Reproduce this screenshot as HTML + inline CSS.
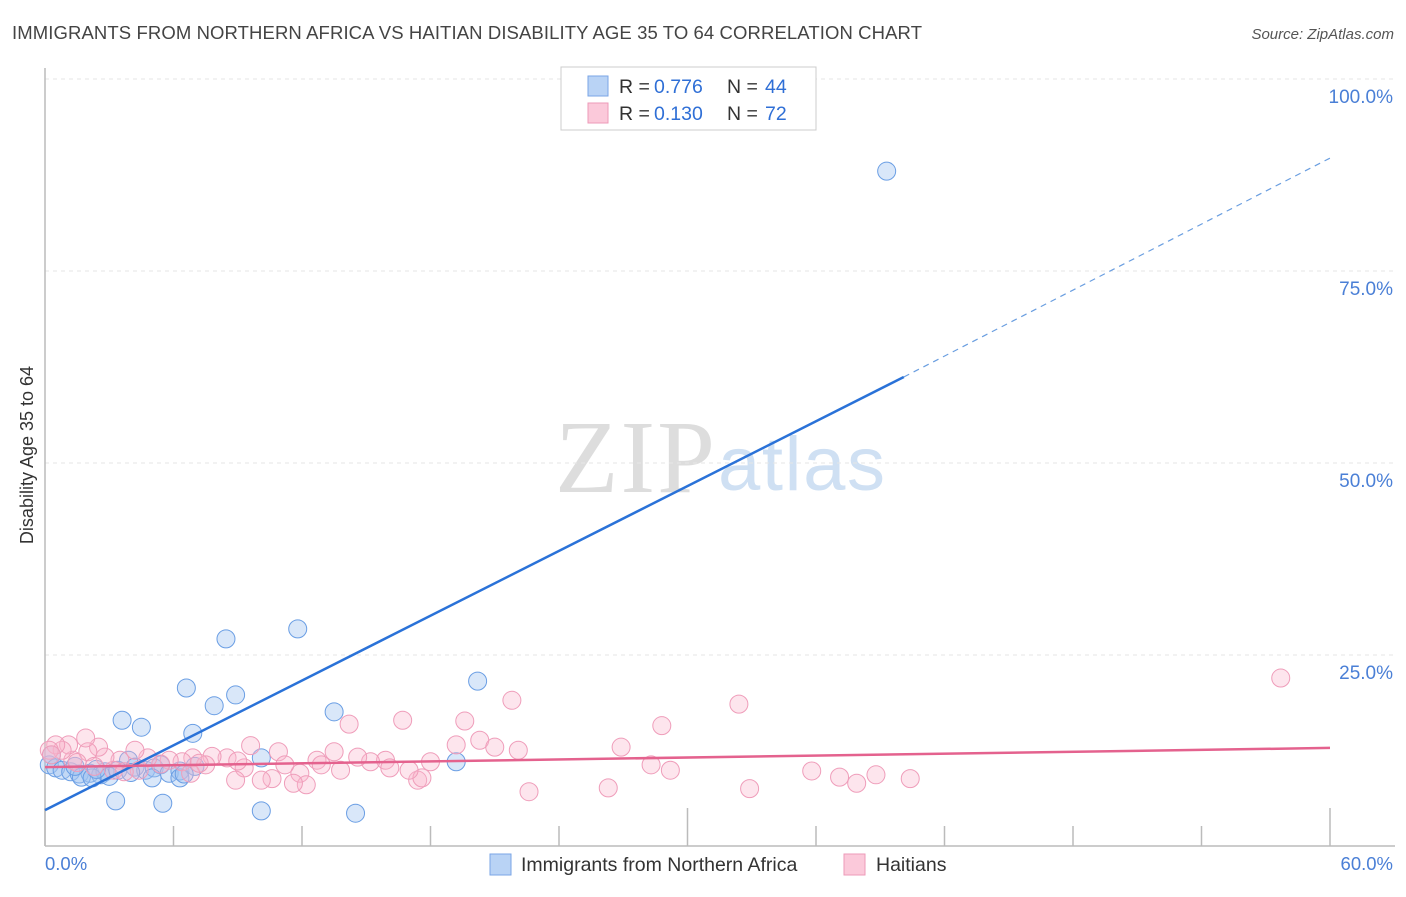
<!DOCTYPE html>
<html><head><meta charset="utf-8"><style>
body{margin:0;background:#fff;font-family:"Liberation Sans",sans-serif;}
</style></head><body>
<svg id="chart" width="1406" height="892" xmlns="http://www.w3.org/2000/svg">
<text x="12" y="39" font-size="18.5" fill="#444" textLength="910">IMMIGRANTS FROM NORTHERN AFRICA VS HAITIAN DISABILITY AGE 35 TO 64 CORRELATION CHART</text>
<text x="1394" y="39" font-size="15" fill="#555" font-style="italic" text-anchor="end">Source: ZipAtlas.com</text>
<text x="555" y="492" font-size="104" fill="#ddd" textLength="160" font-family="Liberation Serif,serif">ZIP</text>
<text x="718" y="490" font-size="76" fill="#cfe0f3" textLength="167">atlas</text>
<g id="grid"></g>
<line x1="45" y1="68" x2="45" y2="846" stroke="#bbb" stroke-width="1.5"/>
<line x1="45" y1="846" x2="1395" y2="846" stroke="#bbb" stroke-width="1.5"/>
<g id="xticks"></g>
<g id="pts"></g>
<g id="trends"></g>
<text x="45" y="870" font-size="18.5" fill="#4a7fd6">0.0%</text>
<text x="1393" y="870" font-size="18.5" fill="#4a7fd6" text-anchor="end">60.0%</text>
<text transform="translate(33,455) rotate(-90)" font-size="18" fill="#333" text-anchor="middle">Disability Age 35 to 64</text>
<g>
<rect x="561" y="67" width="255" height="63" fill="#fff" stroke="#ccc"/>
<rect x="588" y="76" width="20" height="20" fill="#b9d3f5" stroke="#7aa5e6"/>
<rect x="588" y="103" width="20" height="20" fill="#fbc9da" stroke="#ee9ab8"/>
<text y="93" font-size="19.5" fill="#333"><tspan x="619">R =</tspan><tspan x="654" fill="#2f6fd6">0.776</tspan><tspan x="727">N =</tspan><tspan x="765" fill="#2f6fd6">44</tspan></text>
<text y="120" font-size="19.5" fill="#333"><tspan x="619">R =</tspan><tspan x="654" fill="#2f6fd6">0.130</tspan><tspan x="727">N =</tspan><tspan x="765" fill="#2f6fd6">72</tspan></text>
</g>
<g>
<rect x="490" y="854" width="21" height="21" fill="#b9d3f5" stroke="#7aa5e6"/>
<text x="521" y="871" font-size="19.5" fill="#333">Immigrants from Northern Africa</text>
<rect x="844" y="854" width="21" height="21" fill="#fbc9da" stroke="#ee9ab8"/>
<text x="876" y="871" font-size="19.5" fill="#333">Haitians</text>
</g>
</svg>
<script>
const yTicks=[25,50,75,100];
const yTickLabels=["25.0%","50.0%","75.0%","100.0%"];
const blueX=[39.3,11.8,8.45,6.6,8.9,7.9,20.2,13.5,3.6,4.5,6.9,10.1,19.2,3.3,5.5,10.1,14.5,0.2,0.5,0.8,1.2,1.6,2.1,2.6,2.8,3.0,3.9,4.2,4.7,5.1,5.4,5.8,6.3,6.3,5.0,7.0,1.7,2.2,1.4,3.4,0.3,2.4,4.0,6.5];
const blueY=[88.0,28.4,27.1,20.7,19.8,18.4,21.6,17.6,16.5,15.6,14.8,11.6,11.1,6.0,5.7,4.7,4.4,10.7,10.3,10.0,9.8,9.5,9.6,9.4,9.8,9.2,11.3,10.4,10.0,10.3,10.7,9.6,9.9,9.0,9.0,10.5,9.1,9.0,10.5,10.0,12.0,10.1,9.7,9.5];
const pinkX=[57.7,32.4,21.8,28.8,14.2,16.7,19.6,20.3,21.0,22.1,19.2,26.9,28.3,29.2,35.8,37.1,37.9,38.8,40.4,22.6,26.3,32.9,17.4,17.6,17.0,18.0,15.9,16.1,15.2,14.6,13.5,12.7,12.9,13.8,11.9,12.2,11.6,10.9,11.2,10.6,10.1,9.6,9.3,8.9,8.5,7.8,7.5,6.9,6.4,5.8,5.4,4.8,4.2,3.5,3.2,2.8,2.5,2.0,1.9,1.3,1.1,0.8,0.5,0.2,4.4,3.7,6.8,0.3,1.5,2.3,7.2,9.0];
const pinkY=[22.0,18.6,19.1,15.8,16.0,16.5,16.4,13.9,13.0,12.6,13.3,13.0,10.7,10.0,9.9,9.1,8.3,9.4,8.9,7.2,7.7,7.6,8.7,9.0,10.0,11.1,11.3,10.3,11.1,11.7,12.4,11.3,10.7,10.0,9.6,8.1,8.3,12.4,10.7,8.9,8.7,13.2,10.3,8.7,11.6,11.8,10.7,11.6,11.1,11.3,10.8,11.6,12.6,11.3,10.0,11.7,13.0,12.4,14.2,11.3,13.3,12.6,13.3,12.6,10.0,9.8,9.6,12.0,11.0,10.5,10.9,11.2];
const blueTrendX=[0,40.1,60];
const blueTrendY=[4.8,61.2,89.7];
const pinkTrendX=[0,60];
const pinkTrendY=[10.4,12.9];
const xTicks=[0,6,12,18,24,30,36,42,48,54,60];
const NS="http://www.w3.org/2000/svg";
const sx=v=>45+v/60*1285;
const sy=v=>847-v/100*768;
function mk(tag,attrs,parent){const e=document.createElementNS(NS,tag);for(const k in attrs)e.setAttribute(k,attrs[k]);parent.appendChild(e);return e;}
const grid=document.getElementById('grid');
yTicks.forEach((t,i)=>{
  const l=mk('line',{x1:45,x2:1395,y1:sy(t),y2:sy(t),stroke:'#e6e6e6','stroke-dasharray':'4,4'},grid);
  
  
  const tx=mk('text',{x:1393,y:sy(t)+24,'font-size':19,fill:'#4a7fd6','text-anchor':'end'},grid);
  tx.textContent=yTickLabels[i];
  
  
});
const xt=document.getElementById('xticks');
xTicks.forEach((t,i)=>{
  const tall=(i===0||i===5||i===10);
  const l=mk('line',{x1:sx(t),x2:sx(t),y1:tall?808:826,y2:846,stroke:'#bbb','stroke-width':1.5},xt);
  
  
});
const pts=document.getElementById('pts');
blueX.forEach((x,i)=>{
  const c=mk('circle',{cx:sx(x),cy:sy(blueY[i]),r:9,fill:'rgba(160,196,240,0.4)',stroke:'#6a9ee4','stroke-width':1},pts);
  
  
});
pinkX.forEach((x,i)=>{
  const c=mk('circle',{cx:sx(x),cy:sy(pinkY[i]),r:9,fill:'rgba(248,180,204,0.35)',stroke:'#ef9dba','stroke-width':1},pts);
  
  
});
const tr=document.getElementById('trends');
const b1=mk('line',{x1:sx(blueTrendX[0]),y1:sy(blueTrendY[0]),x2:sx(blueTrendX[1]),y2:sy(blueTrendY[1]),stroke:'#2a72d8','stroke-width':2.5},tr);


const b2=mk('line',{x1:sx(blueTrendX[1]),y1:sy(blueTrendY[1]),x2:sx(blueTrendX[2]),y2:sy(blueTrendY[2]),stroke:'#6a9ee0','stroke-width':1.2,'stroke-dasharray':'6,5'},tr);


const p1=mk('line',{x1:sx(pinkTrendX[0]),y1:sy(pinkTrendY[0]),x2:sx(pinkTrendX[1]),y2:sy(pinkTrendY[1]),stroke:'#e4628e','stroke-width':2.5},tr);


</script>
</body></html>
